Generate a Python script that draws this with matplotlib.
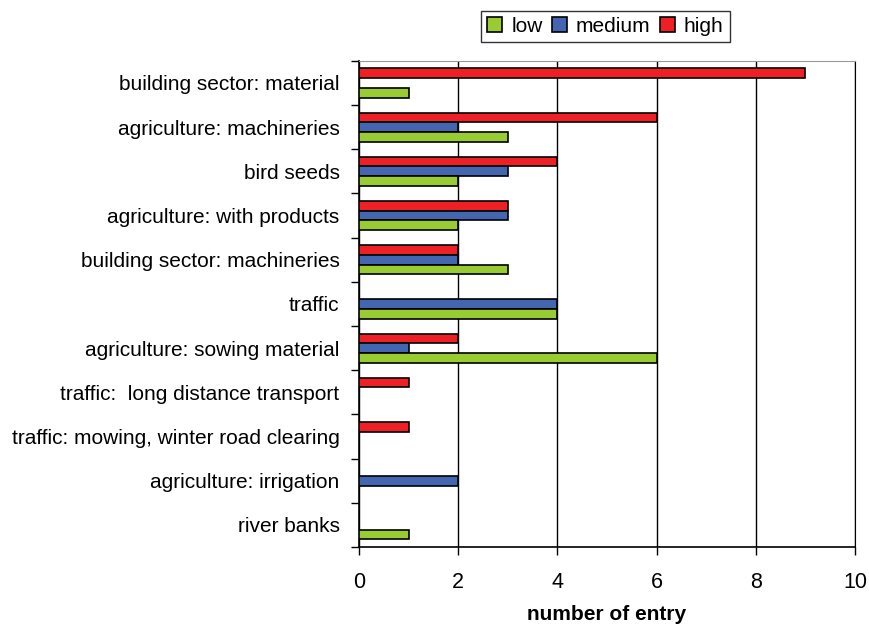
import matplotlib

matplotlib.use("Agg")
import matplotlib.pyplot as plt
import numpy as np

plt.rcParams["font.family"] = ["Liberation Sans", "DejaVu Sans"]

categories = [
    "building sector: material",
    "agriculture: machineries",
    "bird seeds",
    "agriculture: with products",
    "building sector: machineries",
    "traffic",
    "agriculture: sowing material",
    "traffic:  long distance transport",
    "traffic: mowing, winter road clearing",
    "agriculture: irrigation",
    "river banks",
]
low = [1, 3, 2, 2, 3, 4, 6, 0, 0, 0, 1]
medium = [0, 2, 3, 3, 2, 4, 1, 0, 0, 2, 0]
high = [9, 6, 4, 3, 2, 0, 2, 1, 1, 0, 0]

colors = {"low": "#99cc33", "medium": "#4466b0", "high": "#ee2026"}

fig = plt.figure(figsize=(8.7, 6.28), dpi=100)
ax = fig.add_axes([0.4126, 0.129, 0.5702, 0.7741])

n = len(categories)
y = np.arange(n)
h = 0.22
for vals, off, key in [(high, -h, "high"), (medium, 0, "medium"), (low, h, "low")]:
    mask = np.array(vals) > 0
    ax.barh(y[mask] + off, np.array(vals)[mask], height=h, color=colors[key],
            edgecolor="black", linewidth=1.2, zorder=3, label=key)

ax.set_ylim(n - 0.5, -0.5)
ax.set_xlim(0, 10)
ax.set_yticks(y)
ax.set_yticklabels(categories, fontsize=15)
ax.set_yticks(np.arange(n + 1) - 0.5, minor=True)
ax.tick_params(axis="y", which="major", length=0, pad=14)
ax.tick_params(axis="y", which="minor", length=6, width=1, direction="out")
ax.set_xticks(np.arange(0, 11, 2))
ax.tick_params(axis="x", labelsize=15.5, length=6, width=1, direction="out", pad=12)
ax.xaxis.grid(True, color="black", linewidth=1, zorder=0)
ax.set_xlabel("number of entry", fontsize=15, fontweight="bold", labelpad=9)

for side in ["left", "bottom"]:
    ax.spines[side].set_linewidth(1.2)
ax.spines["top"].set_color("#999999")
ax.spines["right"].set_color("black")

handles, labels = ax.get_legend_handles_labels()
order = [labels.index(k) for k in ["low", "medium", "high"]]
leg = fig.legend([handles[i] for i in order], [labels[i] for i in order],
                 loc="center", bbox_to_anchor=(0.696, 0.958), ncol=3,
                 fontsize=15, frameon=True, fancybox=False, edgecolor="black",
                 handlelength=0.7, handleheight=0.7, handletextpad=0.45,
                 columnspacing=0.45, borderpad=0.3, borderaxespad=0)
leg.get_frame().set_linewidth(1)

fig.savefig("out.png", dpi=100)
